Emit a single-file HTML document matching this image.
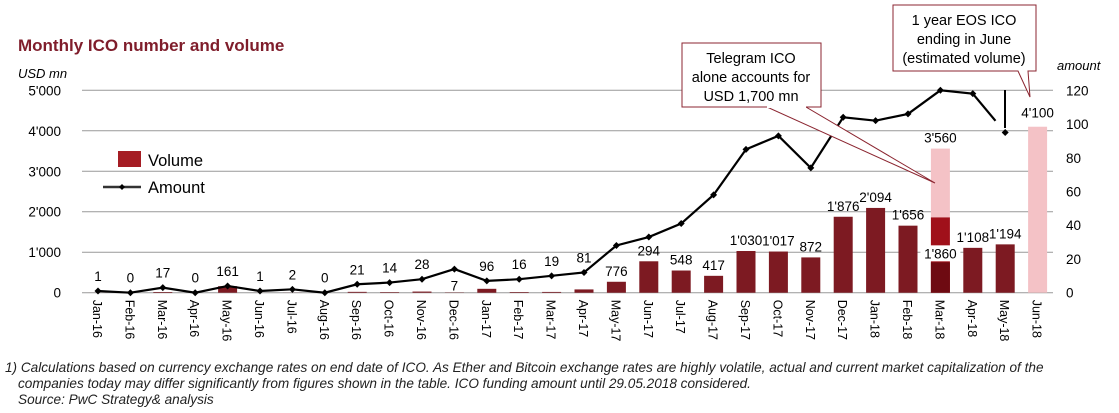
<!DOCTYPE html>
<html><head><meta charset="utf-8"><style>
body{margin:0;background:#fff;width:1119px;height:413px;overflow:hidden;font-family:"Liberation Sans",Arial,sans-serif}
svg{display:block}
</style></head><body>
<svg id="chart" width="1119" height="413" xmlns="http://www.w3.org/2000/svg" font-family="Liberation Sans, Arial, sans-serif">
<text x="18" y="51" font-size="17" font-weight="bold" fill="#7f1d2b">Monthly ICO number and volume</text>
<text x="18" y="78" font-size="13" font-style="italic" fill="#000">USD mn</text>
<text x="1057" y="70" font-size="13" font-style="italic" fill="#000">amount</text>
<g id="grid"></g><g id="bars"></g><g id="line"></g><g id="labels"></g>
<g>
<rect x="118" y="151" width="23" height="16" fill="#a51d24"/>
<text x="148" y="166" font-size="16.5" fill="#000">Volume</text>
<line x1="103" y1="187" x2="141" y2="187" stroke="#333" stroke-width="2.5"/>
<path d="M122 184 L125 187 L122 190 L119 187Z" fill="#000"/>
<text x="148" y="193" font-size="16.5" fill="#000">Amount</text>
</g>
<g>
<polygon points="682,43 821,43 821,107 806,107 935,183 767,107 682,107" fill="#fff" stroke="#8b2530" stroke-width="1"/>
<line x1="767" y1="107" x2="806" y2="107" stroke="#fff" stroke-width="2"/>
<text x="751" y="63" font-size="14.5" text-anchor="middle">Telegram ICO</text>
<text x="751" y="82" font-size="14.5" text-anchor="middle">alone accounts for</text>
<text x="751" y="101" font-size="14.5" text-anchor="middle">USD 1,700 mn</text>
</g>
<g>
<polygon points="893,5 1036,5 1036,71 1028,71 1030,97 1018,71 893,71" fill="#fff" stroke="#8b2530" stroke-width="1"/>
<text x="964" y="25" font-size="14.5" text-anchor="middle">1 year EOS ICO</text>
<text x="964" y="44" font-size="14.5" text-anchor="middle">ending in June</text>
<text x="964" y="63" font-size="14.5" text-anchor="middle">(estimated volume)</text>
</g>
<g font-size="13.6" font-style="italic" fill="#222">
<text x="5" y="372">1) Calculations based on currency exchange rates on end date of ICO. As Ether and Bitcoin exchange rates are highly volatile, actual and current market capitalization of the</text>
<text x="18" y="388">companies today may differ significantly from figures shown in the table. ICO funding amount until 29.05.2018 considered.</text>
<text x="18" y="404">Source: PwC Strategy&amp; analysis</text>
</g>
</svg>
<script>
const months=["Jan-16","Feb-16","Mar-16","Apr-16","May-16","Jun-16","Jul-16","Aug-16","Sep-16","Oct-16","Nov-16","Dec-16","Jan-17","Feb-17","Mar-17","Apr-17","May-17","Jun-17","Jul-17","Aug-17","Sep-17","Oct-17","Nov-17","Dec-17","Jan-18","Feb-18","Mar-18","Apr-18","May-18","Jun-18"];
const volume=[1,0,17,0,161,1,2,0,21,14,28,7,96,16,19,81,270,776,548,417,1030,1017,872,1876,2094,1656,1860,1108,1194,0];
const volumeLabels=["1","0","17","0","161","1","2","0","21","14","28","7","96","16","19","81","776","294","548","417","1'030","1'017","872","1'876","2'094","1'656","1'860","1'108","1'194","4'100"];
const amount=[1,0,3,0,4,1,2,0,5,6,8,14,7,8,10,12,28,33,41,58,85,93,74,104,102,106,120,118,95];
const telegramExtra=1700;
const telegramBase=750;
const eosVolume=4100;
const leftTicks=[0,1000,2000,3000,4000,5000];
const leftTickLabels=["0","1'000","2'000","3'000","4'000","5'000"];
const rightTicks=[0,20,40,60,80,100,120];

const NS="http://www.w3.org/2000/svg";
const y0=292.7, x0=98, dx=32.4;
const xs=i=>x0+i*dx;
const yL=v=>y0-v*(y0-90.3)/5000;
const yR=v=>y0-v*(y0-90.3)/120;
function mk(tag,attrs,parent,text){const e=document.createElementNS(NS,tag);for(const k in attrs)e.setAttribute(k,attrs[k]);if(text!==undefined)e.textContent=text;document.getElementById(parent).appendChild(e);return e;}
leftTicks.forEach((t,i)=>{
 const g=mk("line",{x1:82,x2:1053,y1:yL(t),y2:yL(t),stroke:"#999","stroke-width":1},"grid");
 
 
 const l=mk("text",{x:61,y:yL(t)+5,"font-size":13.5,"text-anchor":"end"},"grid",leftTickLabels[i]);
 
 
});
rightTicks.forEach(t=>{
 const l=mk("text",{x:1066,y:yR(t)+5,"font-size":13.5},"grid",String(t));
 
 
});
const bw=19;
months.forEach((m,i)=>{
 const x=xs(i);
 const lab=mk("text",{x:0,y:0,"font-size":12.5},"labels",m);
 lab.setAttribute("transform",`translate(${x-5},${y0+7}) rotate(90)`);
 
 
 const v=volume[i];
 if(i===29){
  const b=mk("rect",{x:x-bw/2,y:yL(eosVolume),width:bw,height:y0-yL(eosVolume),fill:"#f4c2c6"},"bars");
  
  
 } else if(i===26){
  const p=mk("rect",{x:x-bw/2,y:yL(v+telegramExtra),width:bw,height:yL(v)-yL(v+telegramExtra),fill:"#f4c2c6"},"bars");
  
  
  const b=mk("rect",{x:x-bw/2,y:yL(v),width:bw,height:y0-yL(v),fill:"#a0101a"},"bars");
  
  
  const d=mk("rect",{x:x-bw/2,y:yL(telegramBase),width:bw,height:y0-yL(telegramBase),fill:"#6e0a12"},"bars");
  
  
  const w=mk("rect",{x:x-20,y:yL(telegramBase)-17,width:40,height:16,fill:"#fff"},"bars");
  
  
 } else {
  const b=mk("rect",{x:x-bw/2,y:yL(v),width:bw,height:y0-yL(v),fill:"#7d1a22"},"bars");
  
  
 }
});
volumeLabels.forEach((s,i)=>{
 let y;
 if(i<16){ y=Math.min(yR(amount[i]),y0)-10; }
 else if(i===29) y=yL(eosVolume)-9;
 else if(i===26) y=yL(telegramBase)-4;
 else y=yL(volume[i])-6;
 if(i===11) y=y0-2;
 const t=mk("text",{x:xs(i),y:y,"font-size":13.5,"text-anchor":"middle"},"labels",s);
 
 
});
const t2=mk("text",{x:xs(26),y:yL(volume[26]+telegramExtra)-6,"font-size":13.5,"text-anchor":"middle"},"labels","3'560");


const pts=amount.slice(0,28).map((a,i)=>`${xs(i)},${yR(a)}`).join(" ")+` ${xs(27)+(xs(28)-xs(27))*0.7},${yR(amount[27]+(amount[28]-amount[27])*0.7)}`;
const pl=mk("polyline",{points:pts,fill:"none",stroke:"#000","stroke-width":2.2},"line");


amount.forEach((a,i)=>{
 const x=xs(i),y=yR(a);
 const d=mk("path",{d:`M${x} ${y-3.5} L${x+3.5} ${y} L${x} ${y+3.5} L${x-3.5} ${y}Z`,fill:"#000"},"line");
 
 
});
const vl=mk("line",{x1:1005,x2:1005,y1:90,y2:128,stroke:"#000","stroke-width":2},"line");


</script>
</body></html>
